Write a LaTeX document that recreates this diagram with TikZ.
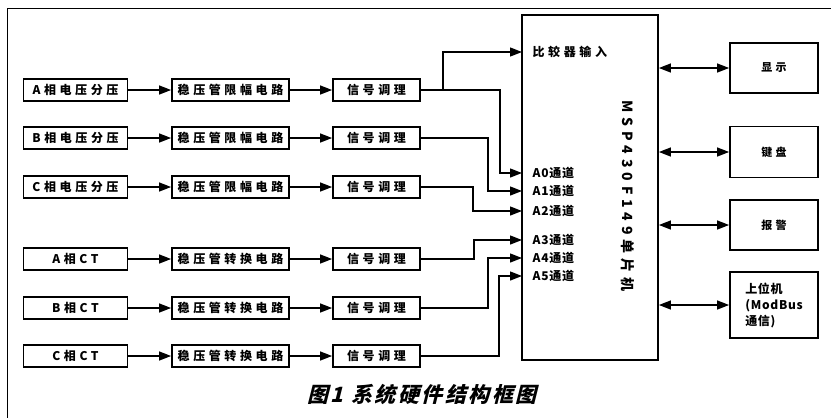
\documentclass[tikz,border=0pt]{standalone}
\usepackage{fontspec}
\newfontfamily\cjk{Noto Sans CJK SC}[LetterSpace=30]
\newfontfamily\cjktight{Noto Sans CJK SC}[LetterSpace=6]
\newfontfamily\cjkwide{Noto Sans CJK SC}[LetterSpace=35]
\newfontfamily\cjkcap{Noto Sans CJK SC}[LetterSpace=12,FakeSlant=0.25]
\usetikzlibrary{arrows.meta}
\begin{document}
\begin{tikzpicture}[x=1pt, y=-1pt, line width=1.3pt,
  blk/.style={draw, line width=1.8pt, minimum height=22pt, inner sep=0pt,
    font=\cjk\bfseries\fontsize{12}{14}\selectfont},
  side/.style={draw, line width=1.8pt, minimum width=88pt, inner sep=0pt,
    font=\cjk\bfseries\fontsize{11}{16}\selectfont},
  pinlbl/.style={anchor=west, inner sep=0pt, font=\cjktight\bfseries\fontsize{12}{14}\selectfont},
  tip/.style={-{Triangle[length=12pt,width=9pt]}},
  both/.style={{Triangle[length=12pt,width=9pt]}-{Triangle[length=12pt,width=9pt]}}]
  \useasboundingbox (0,0) rectangle (831,418);
  % Frame (top and left only)
  \draw[line width=1pt] (831,8) -- (7,8) -- (7,418);
  % Voltage rows
  \foreach \n/\y in {A/90, B/138, C/187} {
    \node[blk, minimum width=104pt] (v\n1) at (75.5,\y) {\n 相电压分压};
    \node[blk, minimum width=117pt] (v\n2) at (230.5,\y) {稳压管限幅电路};
    \node[blk, minimum width=87pt] (v\n3) at (376.5,\y) {信号调理};
    \draw[tip] (v\n1) -- (v\n2);
    \draw[tip] (v\n2) -- (v\n3);
  }
  % Current rows
  \foreach \n/\y in {A/259, B/308, C/356} {
    \node[blk, minimum width=104pt] (i\n1) at (75.5,\y) {\n 相CT};
    \node[blk, minimum width=117pt] (i\n2) at (230.5,\y) {稳压管转换电路};
    \node[blk, minimum width=87pt] (i\n3) at (376.5,\y) {信号调理};
    \draw[tip] (i\n1) -- (i\n2);
    \draw[tip] (i\n2) -- (i\n3);
  }
  % MCU
  \node[draw, line width=1.8pt, minimum width=136pt, minimum height=345pt, inner sep=0pt]
    (mcu) at (590,187.5) {};
  \node[rotate=-90, font=\cjkwide\bfseries\fontsize{14}{16}\selectfont] (chip) at (628,196)
    {MSP430F149单片机};
  \coordinate (cmp) at (522,52);
  \node[pinlbl, font=\cjk\bfseries\fontsize{12}{14}\selectfont] (cmplbl) at (532,52) {比较器输入};
  \foreach \i/\y in {0/173, 1/191, 2/211, 3/240, 4/258, 5/276} {
    \coordinate (pin\i) at (522,\y);
    \node[pinlbl] (lbl\i) at (532,\y) {A\i 通道};
  }
  % Routing columns
  \coordinate (xK) at (443,0);
  \coordinate (xA) at (500,0);
  \coordinate (xB) at (488,0);
  \coordinate (xC) at (473,0);
  \coordinate (xD) at (474,0);
  \coordinate (xE) at (488,0);
  \coordinate (xF) at (499,0);
  \draw[tip] (vA3.east -| xK) |- (cmp);
  \draw[tip] (vA3.east) -- (vA3.east -| xA) |- (pin0);
  \draw[tip] (vB3.east) -- (vB3.east -| xB) |- (pin1);
  \draw[tip] (vC3.east) -- (vC3.east -| xC) |- (pin2);
  \draw[tip] (iA3.east) -- (iA3.east -| xD) |- (pin3);
  \draw[tip] (iB3.east) -- (iB3.east -| xE) |- (pin4);
  \draw[tip] (iC3.east) -- (iC3.east -| xF) |- (pin5);
  % Peripherals
  \node[side, minimum height=50pt] (disp) at (774,68) {显示};
  \node[side, minimum height=51pt] (keys) at (774,152) {键盘};
  \node[side, minimum height=50pt] (alarm) at (774,225) {报警};
  \node[side, minimum height=66pt, align=left, font=\cjktight\bfseries\fontsize{12}{16}\selectfont]
    (host) at (774,305) {上位机\\(ModBus\\通信)};
  \foreach \p in {disp, keys, alarm, host} {
    \draw[both] (\p.west -| mcu.east) -- (\p.west);
  }
  % Caption
  \node[font=\cjkcap\bfseries\fontsize{21}{24}\selectfont] (cap) at (422,394)
    {图1 系统硬件结构框图};
\end{tikzpicture}
\end{document}
